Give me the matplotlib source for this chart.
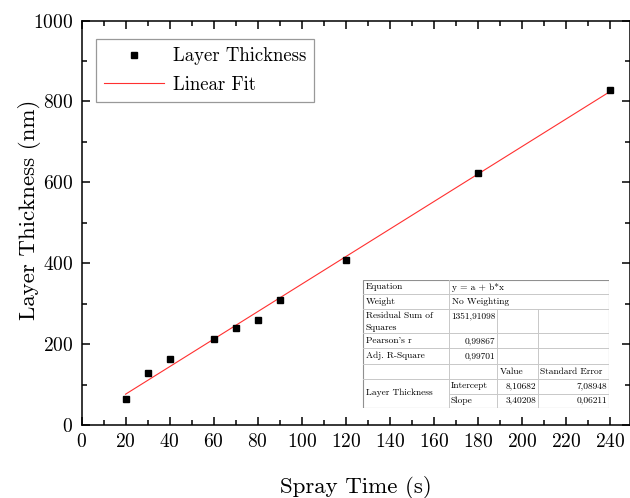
import matplotlib
matplotlib.use("Agg")
import matplotlib.pyplot as plt
import numpy as np
from matplotlib.ticker import MultipleLocator

plt.rcParams['font.family'] = ['cmr10', 'DejaVu Serif']
plt.rcParams['mathtext.fontset'] = 'cm'
plt.rcParams['axes.formatter.use_mathtext'] = True

# Data
spray_time = [20, 30, 40, 60, 70, 80, 90, 120, 180, 240]
thickness = [64, 128, 162, 213, 241, 260, 310, 409, 623, 829]
fit_intercept = 8.10682
fit_slope = 3.40208

table_rows = [
    ("Equation", "y = a + b*x"),
    ("Weight", "No Weighting"),
    ("Residual Sum of\nSquares", "1351,91098"),
    ("Pearson's r", "0,99867"),
    ("Adj. R-Square", "0,99701"),
]
param_names = ["Intercept", "Slope"]
param_values = ["8,10682", "3,40208"]
param_errors = ["7,08948", "0,06211"]

W, H = 630, 498
fig = plt.figure(figsize=(W / 100, H / 100), dpi=100)
L, R, T, B = 81.5, 630.0, 20.5, 425.0
ax = fig.add_axes([L / W, 1 - B / H, (R - L) / W, (B - T) / H])

ax.plot(spray_time, thickness, 's', color='black', markersize=4, label='Layer Thickness', zorder=3)
xf = np.array([min(spray_time), max(spray_time)])
ax.plot(xf, fit_intercept + fit_slope * xf, '-', color='#ff3030', lw=0.8, label='Linear Fit', zorder=2)

ax.set_xlim(0, 249)
ax.set_ylim(0, 1000)
ax.xaxis.set_major_locator(MultipleLocator(20))
ax.xaxis.set_minor_locator(MultipleLocator(10))
ax.yaxis.set_major_locator(MultipleLocator(200))
ax.yaxis.set_minor_locator(MultipleLocator(100))
ax.tick_params(which='both', direction='in', top=True, right=True, width=1.1)
ax.tick_params(which='major', length=6, labelsize=14, pad=6)
ax.tick_params(which='minor', length=3.5)
for s in ax.spines.values():
    s.set_linewidth(1.1)
ax.set_xlabel('Spray Time (s)', fontsize=16.5, labelpad=18)
ax.set_ylabel('Layer Thickness (nm)', fontsize=16.5)
ax.yaxis.set_label_coords((41 - L) / (R - L), (B - 210) / (B - T))

leg = ax.legend(loc='upper left', bbox_to_anchor=((95.7 - L) / (R - L), 1 - (39 - T) / (B - T)),
                fontsize=13.5, frameon=True, fancybox=False, edgecolor='#808080',
                borderpad=0.45, handlelength=3.2, handletextpad=0.45, labelspacing=0.55,
                borderaxespad=0)
leg.get_frame().set_linewidth(0.9)

# Table drawn in pixel coordinates on an inset axes
tx0, tx1, ty0, ty1 = 362.5, 609.0, 280.0, 407.5
tab = fig.add_axes([tx0 / W, 1 - ty1 / H, (tx1 - tx0) / W, (ty1 - ty0) / H])
tab.set_xlim(tx0, tx1)
tab.set_ylim(ty1, ty0)
tab.axis('off')
tab.add_patch(plt.Rectangle((tx0, ty0), tx1 - tx0, ty1 - ty0, facecolor='white', edgecolor='#909090', lw=0.8))
c1, c2, c3 = 449, 497.5, 538
rows_y = [280, 294.5, 309, 333.5, 348.5, 364, 379, 393.5, 407.5]
lc = '#c8c8c8'
for i, y in enumerate(rows_y[1:-1], start=1):
    xs = c1 if i == 7 else tx0
    tab.plot([xs, tx1], [y, y], color=lc, lw=0.7)
tab.plot([c1, c1], [ty0, ty1], color=lc, lw=0.7)
tab.plot([c2, c2], [rows_y[2], ty1], color=lc, lw=0.7)
tab.plot([c3, c3], [rows_y[2], ty1], color=lc, lw=0.7)
fs = 6.8
for i, (lab, val) in enumerate(table_rows):
    ytop, ybot = rows_y[i], rows_y[i + 1]
    if i == 2:
        tab.text(tx0 + 3, ytop + 7, "Residual Sum of", fontsize=fs, va='center', ha='left')
        tab.text(tx0 + 3, ytop + 19, "Squares", fontsize=fs, va='center', ha='left')
        tab.text(c2 - 2, ytop + 7, val, fontsize=fs, va='center', ha='right')
    elif i < 2:
        tab.text(tx0 + 3, (ytop + ybot) / 2, lab, fontsize=fs, va='center', ha='left')
        tab.text(c1 + 3, (ytop + ybot) / 2, val, fontsize=fs, va='center', ha='left')
    else:
        tab.text(tx0 + 3, (ytop + ybot) / 2, lab, fontsize=fs, va='center', ha='left')
        tab.text(c2 - 2, (ytop + ybot) / 2, val, fontsize=fs, va='center', ha='right')
yh = (rows_y[5] + rows_y[6]) / 2
tab.text(c2 + 2, yh, "Value", fontsize=fs, va='center', ha='left')
tab.text(c3 + 2, yh, "Standard Error", fontsize=fs, va='center', ha='left')
tab.text(tx0 + 3, (rows_y[6] + rows_y[8]) / 2, "Layer Thickness", fontsize=fs, va='center', ha='left')
for k in range(2):
    yc = (rows_y[6 + k] + rows_y[7 + k]) / 2
    tab.text(c1 + 2, yc, param_names[k], fontsize=fs, va='center', ha='left')
    tab.text(c3 - 2, yc, param_values[k], fontsize=fs, va='center', ha='right')
    tab.text(tx1 - 2, yc, param_errors[k], fontsize=fs, va='center', ha='right')

fig.savefig('out.png', dpi=100)
